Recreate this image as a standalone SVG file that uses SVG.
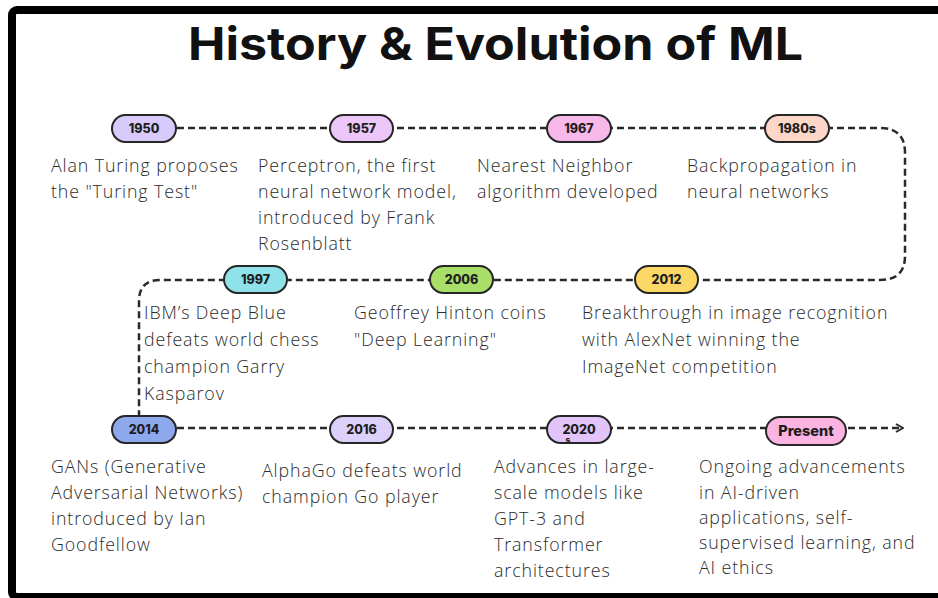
<svg xmlns="http://www.w3.org/2000/svg" width="938" height="598" viewBox="0 0 938 598">
  <style>
    .title { font-family: Inter, "Liberation Sans", sans-serif; font-weight: 700; font-size: 45px; fill: #111; }
    .pill { stroke: #262626; stroke-width: 2; }
    .year { font-family: Inter, "Liberation Sans", sans-serif; font-weight: 800; font-size: 12.5px; fill: #1e1e1e; text-anchor: middle; }
    .desc { font-family: "Open Sans", "Liberation Sans", sans-serif; font-weight: 300; font-size: 17.8px; letter-spacing: 0.9px; fill: #2b2b2b; }
    .line { fill: none; stroke: #2a2a2a; stroke-width: 2.5; stroke-dasharray: 7 4; }
  </style>
  <defs>
    <marker id="arrow" viewBox="0 0 10 10" refX="9" refY="5" markerWidth="10" markerHeight="10" markerUnits="userSpaceOnUse" orient="auto">
      <path d="M2 1 L9 5 L2 9" fill="none" stroke="#2a2a2a" stroke-width="2"/>
    </marker>
  </defs>

  <!-- frame -->
  <rect x="0" y="0" width="938" height="598" fill="#fff"/>
  <rect x="12" y="10" width="940" height="587" rx="5" fill="none" stroke="#000" stroke-width="8"/>

  <text class="title" x="188" y="60" textLength="615" lengthAdjust="spacingAndGlyphs">History &amp; Evolution of ML</text>

  <!-- timeline path -->
  <g id="connectors">
    <path class="line" d="M144 128 H880 Q905 128 905 153 V256 Q905 280 880 280 H160 Q139 280 139 301 V418"/>
    <path class="line" d="M144 428 H903" marker-end="url(#arrow)"/>
  </g>

  <g id="n1950">
    <rect class="pill" x="112" y="115" width="64" height="27" rx="13.5" fill="#d8cbfb"/>
    <text class="year" x="144" y="133">1950</text>
    <text class="desc"><tspan x="51" y="172">Alan Turing proposes</tspan><tspan x="51" y="198">the "Turing Test"</tspan></text>
  </g>
  <g id="n1957">
    <rect class="pill" x="330" y="115" width="63" height="27" rx="13.5" fill="#ecc5f9"/>
    <text class="year" x="361.5" y="133">1957</text>
    <text class="desc"><tspan x="258" y="172">Perceptron, the first</tspan><tspan x="258" y="198">neural network model,</tspan><tspan x="258" y="224">introduced by Frank</tspan><tspan x="258" y="250">Rosenblatt</tspan></text>
  </g>
  <g id="n1967">
    <rect class="pill" x="547" y="115" width="64" height="27" rx="13.5" fill="#f8b8e9"/>
    <text class="year" x="579" y="133">1967</text>
    <text class="desc"><tspan x="477" y="172">Nearest Neighbor</tspan><tspan x="477" y="198">algorithm developed</tspan></text>
  </g>
  <g id="n1980s">
    <rect class="pill" x="765" y="115" width="64" height="27" rx="13.5" fill="#fcd6c6"/>
    <text class="year" x="797" y="133">1980s</text>
    <text class="desc"><tspan x="687" y="172">Backpropagation in</tspan><tspan x="687" y="198">neural networks</tspan></text>
  </g>

  <g id="n1997">
    <rect class="pill" x="224" y="266" width="63" height="27" rx="13.5" fill="#8fe2ea"/>
    <text class="year" x="255.5" y="284">1997</text>
    <text class="desc"><tspan x="144" y="319">IBM’s Deep Blue</tspan><tspan x="144" y="346">defeats world chess</tspan><tspan x="144" y="373">champion Garry</tspan><tspan x="144" y="400">Kasparov</tspan></text>
  </g>
  <g id="n2006">
    <rect class="pill" x="430" y="266" width="63" height="27" rx="13.5" fill="#a9df69"/>
    <text class="year" x="461.5" y="284">2006</text>
    <text class="desc"><tspan x="354" y="319">Geoffrey Hinton coins</tspan><tspan x="354" y="346">"Deep Learning"</tspan></text>
  </g>
  <g id="n2012">
    <rect class="pill" x="635" y="266" width="63" height="27" rx="13.5" fill="#fbd765"/>
    <text class="year" x="666.5" y="284">2012</text>
    <text class="desc"><tspan x="582" y="319">Breakthrough in image recognition</tspan><tspan x="582" y="346">with AlexNet winning the</tspan><tspan x="582" y="373">ImageNet competition</tspan></text>
  </g>

  <g id="n2014">
    <rect class="pill" x="112" y="416" width="64" height="27" rx="13.5" fill="#8ea8ee"/>
    <text class="year" x="144" y="434">2014</text>
    <text class="desc"><tspan x="51" y="473">GANs (Generative</tspan><tspan x="51" y="499">Adversarial Networks)</tspan><tspan x="51" y="525">introduced by Ian</tspan><tspan x="51" y="551">Goodfellow</tspan></text>
  </g>
  <g id="n2016">
    <rect class="pill" x="330" y="416" width="63" height="27" rx="13.5" fill="#ddd0fb"/>
    <text class="year" x="361.5" y="434">2016</text>
    <text class="desc"><tspan x="262" y="477">AlphaGo defeats world</tspan><tspan x="262" y="503">champion Go player</tspan></text>
  </g>
  <g id="n2020">
    <rect class="pill" x="547" y="416" width="64" height="27" rx="13.5" fill="#e3c4fa"/>
    <text class="year" x="579" y="434">2020</text>
    <text class="year" x="568" y="443" style="font-size:8.5px">s</text>
    <text class="desc"><tspan x="494" y="473">Advances in large-</tspan><tspan x="494" y="499">scale models like</tspan><tspan x="494" y="525">GPT-3 and</tspan><tspan x="494" y="551">Transformer</tspan><tspan x="494" y="577">architectures</tspan></text>
  </g>
  <g id="nPresent">
    <rect class="pill" x="766" y="417" width="80" height="28" rx="14" fill="#fbb4e2"/>
    <text class="year" x="806" y="436" style="font-size:14.5px">Present</text>
    <text class="desc"><tspan x="699" y="473">Ongoing advancements</tspan><tspan x="699" y="499">in AI-driven</tspan><tspan x="699" y="524">applications, self-</tspan><tspan x="699" y="549">supervised learning, and</tspan><tspan x="699" y="574">AI ethics</tspan></text>
  </g>
</svg>
